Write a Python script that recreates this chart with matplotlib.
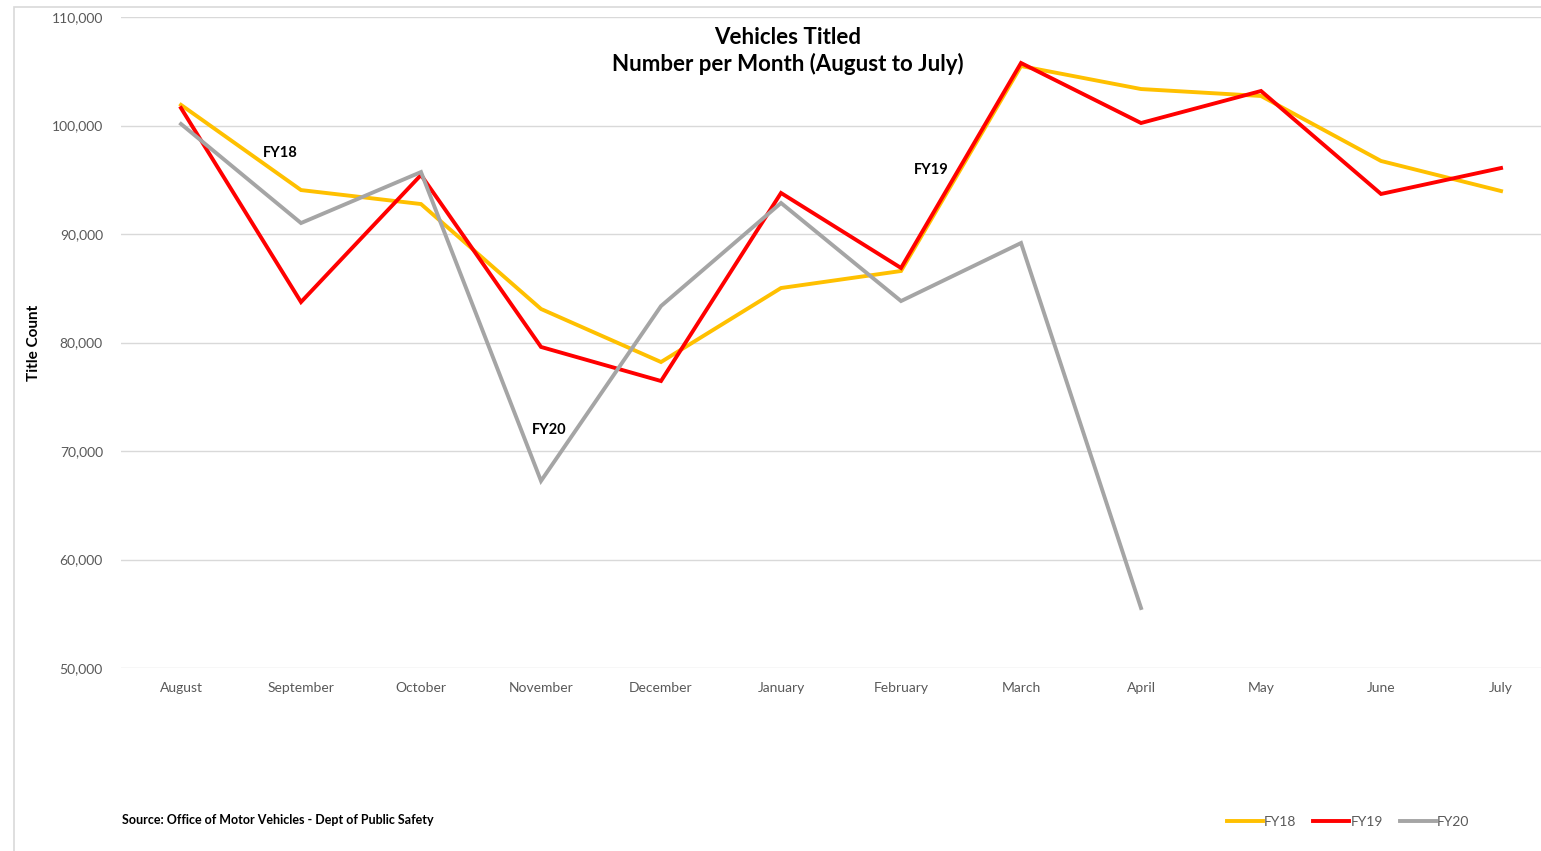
import matplotlib.pyplot as plt
from matplotlib.patches import Rectangle
from matplotlib.ticker import FuncFormatter

plt.rcParams['font.family'] = ['Lato', 'DejaVu Sans']

months = ["August", "September", "October", "November", "December", "January",
          "February", "March", "April", "May", "June", "July"]
fy18 = [101900, 94050, 92760, 83090, 78200, 85020, 86590, 105480, 103360, 102720, 96730, 93960]
fy19 = [101610, 83730, 95440, 79590, 76450, 93780, 86870, 105760, 100230, 103180, 93690, 96080]
fy20 = [100140, 91010, 95710, 67240, 83360, 92860, 83820, 89170, 55530]

W, H = 1541, 851
fig = plt.figure(figsize=(W / 100, H / 100), dpi=100)
ax = fig.add_axes([121 / W, (H - 668) / H, (W - 121) / W, (668 - 17) / H])

# chart border
fig.patches.append(Rectangle((14 / W, -0.01), 1.0, (H - 7) / H + 0.01, transform=fig.transFigure,
                             fill=False, edgecolor='#d9d9d9', linewidth=1.2))

x = range(len(months))
ax.plot(x, fy18, color='#FFC000', lw=2.8, label='FY18', solid_joinstyle='miter')
ax.plot(x, fy19, color='#FF0000', lw=2.8, label='FY19', solid_joinstyle='miter')
ax.plot(range(len(fy20)), fy20, color='#A5A5A5', lw=2.8, label='FY20', solid_joinstyle='miter')

ax.set_xlim(-0.5, 11.333)
ax.set_ylim(50000, 110000)
ax.set_yticks(range(50000, 110001, 10000))
ax.yaxis.set_major_formatter(FuncFormatter(lambda v, p: f"{int(v):,}"))
ax.set_xticks(list(x))
ax.set_xticklabels(months)
ax.grid(axis='y', color='#d9d9d9', lw=1)
ax.set_axisbelow(True)
for s in ax.spines.values():
    s.set_visible(False)
ax.tick_params(length=0, labelsize=10, colors='#595959')
ax.tick_params(axis='y', pad=13)
ax.tick_params(axis='x', pad=10)

ax.set_ylabel("Title Count", fontsize=11, fontweight='bold')
ax.yaxis.set_label_coords((41 - 121) / (W - 121), 0.5)

ax.text(0.4695, 0.985, "Vehicles Titled\nNumber per Month (August to July)", transform=ax.transAxes,
        ha='center', va='top', fontsize=16, fontweight='bold', linespacing=1.3)

ax.text(0.83, 97470, "FY18", fontsize=10.5, fontweight='bold', ha='center', va='center')
ax.text(6.25, 95900, "FY19", fontsize=10.5, fontweight='bold', ha='center', va='center')
ax.text(3.07, 71940, "FY20", fontsize=10.5, fontweight='bold', ha='center', va='center')

fig.text(122 / W, 1 - 820 / H, "Source: Office of Motor Vehicles - Dept of Public Safety",
         fontsize=9, fontweight='bold', va='center')

fig.legend(loc='center', bbox_to_anchor=(1348 / W, 1 - 822 / H), ncol=3, frameon=False,
           fontsize=10, labelcolor='#595959', handlelength=2.6, handletextpad=0.1,
           columnspacing=1.2)

fig.savefig("out.png", dpi=100)
